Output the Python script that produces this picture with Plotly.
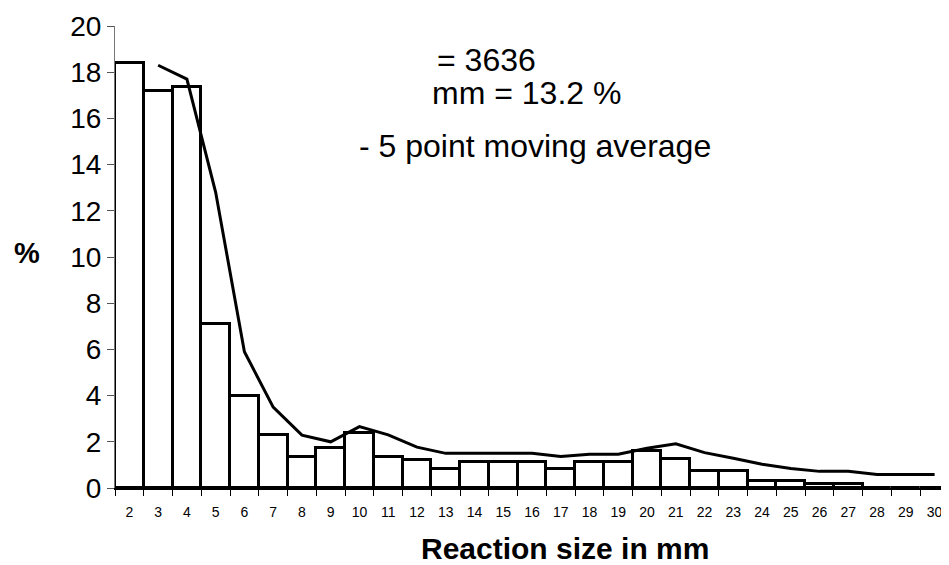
import plotly.graph_objects as go

categories = [str(i) for i in range(2, 31)]
bar_values = [18.38, 17.2, 17.34, 7.1, 4.0, 2.29, 1.33, 1.74, 2.40, 1.36, 1.21, 0.81,
              1.11, 1.11, 1.11, 0.81, 1.11, 1.11, 1.6, 1.24, 0.74, 0.74, 0.30, 0.30,
              0.19, 0.19, 0, 0, 0]
ma_categories = [str(i) for i in range(3, 31)]
ma_values = [18.3, 17.7, 12.8, 5.9, 3.5, 2.29, 2.0, 2.66, 2.3, 1.77, 1.5, 1.5, 1.5, 1.5,
             1.36, 1.46, 1.46, 1.72, 1.91, 1.53, 1.29, 1.03, 0.84, 0.72, 0.72, 0.58,
             0.58, 0.58]
y_ticks = list(range(0, 21, 2))

FONT = "Liberation Sans, Arial, sans-serif"

fig = go.Figure()
fig.add_trace(go.Bar(x=categories, y=bar_values,
                     marker=dict(color="white", line=dict(color="black", width=3)),
                     showlegend=False, hoverinfo="skip"))
fig.add_trace(go.Scatter(x=ma_categories, y=ma_values, mode="lines",
                         line=dict(color="black", width=3), showlegend=False))

# page body has an 8px default margin, so the figure is sized to fill the rest of the window
fig.update_layout(
    width=941, height=557,
    margin=dict(l=107, r=0, t=18, b=77, autoexpand=False),
    plot_bgcolor="white", paper_bgcolor="white",
    bargap=0,
    font=dict(family=FONT, color="black"),
    xaxis=dict(type="category", tickson="boundaries", ticks="outside", ticklen=6,
               tickcolor="black", showline=True, linecolor="black", linewidth=2,
               tickfont=dict(size=14, family=FONT), showgrid=False, zeroline=False,
               ticklabelstandoff=10,
               range=[-0.5, 28.5], automargin=False),
    yaxis=dict(range=[0, 20], tickvals=y_ticks, ticks="outside", ticklen=7,
               tickcolor="#555", showline=True, linecolor="#777", linewidth=1,
               tickfont=dict(size=28, family=FONT), showgrid=False, zeroline=False,
               automargin=False),
    annotations=[
        dict(text="= 3636", xref="paper", yref="paper", x=0.3837, y=(488 - 60) / 462,
             xanchor="left", yanchor="middle", showarrow=False, font=dict(size=32)),
        dict(text="mm = 13.2 %", xref="paper", yref="paper", x=0.3777, y=(488 - 93) / 462,
             xanchor="left", yanchor="middle", showarrow=False, font=dict(size=32)),
        dict(text="- 5 point moving average", xref="paper", yref="paper", x=0.2902,
             y=(488 - 146) / 462,
             xanchor="left", yanchor="middle", showarrow=False, font=dict(size=32)),
        dict(text="<b>%</b>", xref="paper", yref="paper", x=-0.1055, y=0.5097,
             xanchor="center", yanchor="middle", showarrow=False, font=dict(size=29)),
        dict(text="<b>Reaction size in mm</b>", xref="paper", yref="paper", x=0.540,
             y=(488 - 548) / 462,
             xanchor="center", yanchor="middle", showarrow=False, font=dict(size=30)),
    ],
)

fig.write_html("out.html")
